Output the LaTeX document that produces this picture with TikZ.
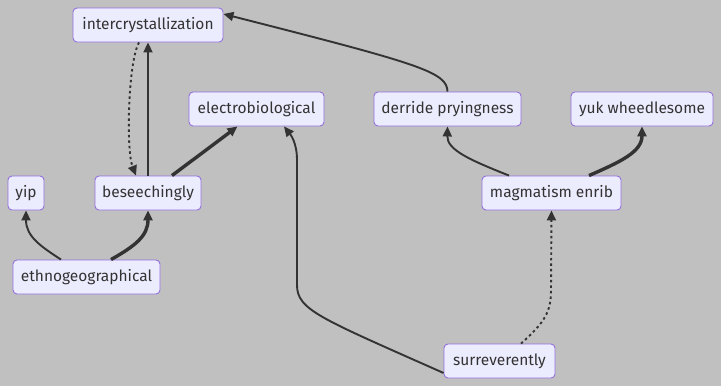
\documentclass[tikz,border=0pt]{standalone}
\usepackage{fontspec}
\setmainfont{Fira Sans}
\usetikzlibrary{arrows.meta}
\definecolor{bg}{HTML}{C0C0C0}
\definecolor{nodefill}{HTML}{ECECFF}
\definecolor{nodeline}{HTML}{9370DB}
\definecolor{ink}{HTML}{333333}
\tikzset{
  box/.style={draw=nodeline, fill=nodefill, line width=0.9pt, rounded corners=4pt,
    minimum height=34pt, inner sep=0pt, text=ink, font=\fontsize{15.5}{18}\selectfont},
  link/.style={draw=ink, line width=1.9pt, -{Triangle[length=10pt,width=9pt]}},
  thicklink/.style={link, line width=3.4pt},
  dottedlink/.style={link, dash pattern=on 2.5pt off 3pt},
}
\begin{document}
\begin{tikzpicture}[x=1pt, y=-1pt]
  \fill[bg] (0,0) rectangle (721,386);
  \useasboundingbox (0,0) rectangle (721,386);

  \node[box, minimum width=150pt] (int) at (148,25) {intercrystallization};
  \node[box, minimum width=135pt] (ele) at (256.5,109) {electrobiological};
  \node[box, minimum width=147pt] (der) at (447.5,109) {derride pryingness};
  \node[box, minimum width=142pt] (yuk) at (642,109) {yuk wheedlesome};
  \node[box, minimum width=36pt]  (yip) at (26,193) {yip};
  \node[box, minimum width=106pt] (bes) at (148,193) {beseechingly};
  \node[box, minimum width=139pt] (mag) at (551.5,193) {magmatism enrib};
  \node[box, minimum width=147pt] (eth) at (86.5,277) {ethnogeographical};
  \node[box, minimum width=111pt] (sur) at (499.5,361) {surreverently};

  % beseechingly <-> intercrystallization
  \draw[link] (bes.north) -- (int.south);
  \draw[dottedlink] ([xshift=-9pt]int.south)
    .. controls (128,62) and (126,150) .. ([xshift=-12pt]bes.north);
  % beseechingly -> electrobiological
  \draw[thicklink] ([xshift=24pt]bes.north) -- ([xshift=-19pt]ele.south);
  % surreverently -> electrobiological
  \draw[link] ([yshift=-12pt]sur.west)
    .. controls (320,318) and (297,310) .. (297,285)
    -- (297,160) .. controls (297,142) and (290,134) .. ([xshift=27.5pt]ele.south);
  % derride pryingness -> intercrystallization
  \draw[link] (der.north) .. controls (447,72) and (420,64) .. ([yshift=11pt]int.east);
  % magmatism enrib -> derride pryingness, yuk wheedlesome
  \draw[link] ([xshift=-42.5pt]mag.north) .. controls (470,160) and (447,150) .. (der.south);
  \draw[thicklink] ([xshift=37.5pt]mag.north) .. controls (620,162) and (642,152) .. (yuk.south);
  % surreverently -> magmatism enrib
  \draw[dottedlink] ([xshift=21.5pt]sur.north)
    .. controls (545,322) and (551,312) .. (551,290) -- (mag.south);
  % ethnogeographical -> yip, beseechingly
  \draw[link] ([xshift=-25.5pt]eth.north) .. controls (40,246) and (26,236) .. (yip.south);
  \draw[thicklink] ([xshift=24.5pt]eth.north) .. controls (135,246) and (148,236) .. (bes.south);
\end{tikzpicture}
\end{document}
